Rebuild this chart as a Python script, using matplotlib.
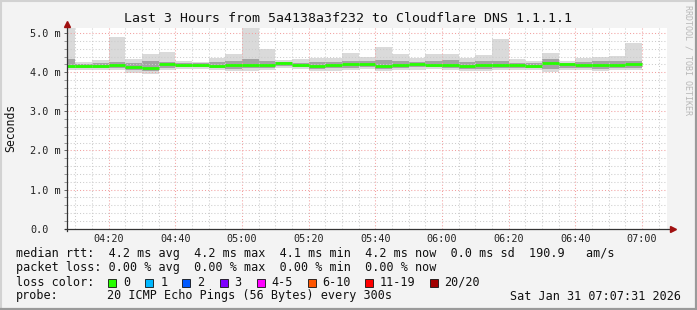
import numpy as np
import matplotlib
matplotlib.use("Agg")
import matplotlib.pyplot as plt
from matplotlib.ticker import MultipleLocator, FuncFormatter
from matplotlib.lines import Line2D
from matplotlib.patches import Rectangle

plt.rcParams['font.family'] = ['DejaVu Sans Mono']

## data: one smoke column per 5 min step (start minute of day)
col_start = np.arange(245, 420, 5)          # 04:05 ... 06:55
median_ms = [4.17, 4.17, 4.16, 4.19, 4.13, 4.10, 4.20, 4.18, 4.18, 4.15,
             4.19, 4.19, 4.19, 4.24, 4.19, 4.17, 4.19, 4.20, 4.22, 4.16,
             4.19, 4.21, 4.19, 4.19, 4.17, 4.18, 4.19, 4.19, 4.16, 4.24,
             4.20, 4.19, 4.19, 4.19, 4.20]
max_ms = [5.14, 4.26, 4.31, 4.89, 4.33, 4.46, 4.53, 4.29, 4.27, 4.36,
          4.46, 5.14, 4.60, 4.31, 4.33, 4.37, 4.37, 4.49, 4.40, 4.64,
          4.46, 4.36, 4.46, 4.46, 4.37, 4.43, 4.85, 4.33, 4.29, 4.49,
          4.29, 4.37, 4.40, 4.42, 4.74]
min_ms = [4.06, 4.05, 4.05, 4.06, 3.97, 3.96, 4.05, 4.08, 4.08, 4.07,
          4.02, 4.02, 4.06, 4.10, 4.08, 4.02, 4.04, 4.05, 4.08, 4.02,
          4.06, 4.07, 4.08, 4.05, 4.04, 4.02, 4.06, 4.05, 4.06, 4.01,
          4.06, 4.05, 4.02, 4.05, 4.05]
q_hi = [4.33, 4.22, 4.24, 4.27, 4.24, 4.28, 4.27, 4.23, 4.23, 4.26,
        4.30, 4.35, 4.30, 4.27, 4.24, 4.26, 4.27, 4.30, 4.28, 4.32,
        4.28, 4.27, 4.30, 4.31, 4.26, 4.29, 4.30, 4.25, 4.23, 4.33,
        4.25, 4.27, 4.30, 4.30, 4.30]
q_lo = [4.10, 4.11, 4.10, 4.12, 4.06, 4.04, 4.12, 4.13, 4.13, 4.11,
        4.09, 4.10, 4.12, 4.16, 4.13, 4.09, 4.11, 4.12, 4.14, 4.08,
        4.12, 4.13, 4.13, 4.10, 4.09, 4.08, 4.12, 4.11, 4.10, 4.08,
        4.12, 4.11, 4.09, 4.11, 4.10]

loss_labels = ["0", "1", "2", "3", "4-5", "6-10", "11-19", "20/20"]
loss_colors = ["#26ff00", "#00b8ff", "#0059ff", "#7e00ff", "#ff00ff",
               "#ff5500", "#ff0000", "#a10000"]

W, H = 697, 310
bg = "#f3f3f3"
fig = plt.figure(figsize=(W / 100, H / 100), dpi=100, facecolor=bg)

def px(x, y):
    return x / W, 1 - y / H

# plot area: x 67..667, y 27.7..228.7
ax = fig.add_axes([67 / W, (H - 228.7) / H, 600 / W, 201 / H])
ax.set_facecolor("white")
ax.set_xlim(247.517, 427.517)
ax.set_ylim(0, 5.14)

step = 5
mn = np.array(min_ms)
ax.bar(col_start, np.array(max_ms) - mn, bottom=mn, width=step, align='edge',
       color="#dadada", linewidth=0, zorder=1)
ax.bar(col_start, np.array(q_hi) - np.array(q_lo), bottom=q_lo, width=step,
       align='edge', color="#a4a4a4", linewidth=0, zorder=1.2)
ax.hlines(median_ms, col_start, col_start + step, colors=loss_colors[0],
          linewidth=2.0, zorder=3)

# grid
ax.xaxis.set_major_locator(MultipleLocator(20))
ax.xaxis.set_minor_locator(MultipleLocator(5))
ax.yaxis.set_major_locator(MultipleLocator(1.0))
ax.yaxis.set_minor_locator(MultipleLocator(0.2))
ax.set_axisbelow(False)
ax.grid(which='minor', color="#cccccc", linestyle=(0, (1, 2)), linewidth=0.75)
ax.grid(which='major', color="#f2a0a0", linestyle=(0, (1, 2)), linewidth=0.75)

ax.xaxis.set_major_formatter(FuncFormatter(lambda v, p: "%02d:%02d" % (v // 60, v % 60)))
ax.yaxis.set_major_formatter(FuncFormatter(lambda v, p: "0.0" if v == 0 else "%.1f m" % v))
ax.tick_params(axis='x', which='both', length=0, pad=3.6, labelsize=7.3, colors="#222222")
ax.tick_params(axis='y', which='major', length=2.2, width=0.7, color="#666666",
               pad=24.4, labelsize=7.3, labelcolor="#222222")
ax.tick_params(axis='y', which='minor', length=2.2, width=0.7, color="#999999")
for lab in ax.get_yticklabels():
    lab.set_horizontalalignment('left')

for s in ax.spines.values():
    s.set_visible(False)

# axes with arrows
axis_col = "#333333"
ax.plot([-0.004, 1.01], [0, 0], transform=ax.transAxes, color=axis_col,
        lw=0.9, clip_on=False, zorder=4)
ax.plot([0, 0], [-0.012, 1.02], transform=ax.transAxes, color=axis_col,
        lw=0.9, clip_on=False, zorder=4)
ax.plot([1.01], [0], transform=ax.transAxes, marker='>', ms=4.5, color="#a01010",
        clip_on=False, zorder=5)
ax.plot([0], [1.02], transform=ax.transAxes, marker='^', ms=4.5, color="#a01010",
        clip_on=False, zorder=5)

# texts
fig.text(*px(348, 18), "Last 3 Hours from 5a4138a3f232 to Cloudflare DNS 1.1.1.1",
         ha='center', va='center', fontsize=9.5, color="#111111")
fig.text(*px(11, 128), "Seconds", rotation=90, ha='center', va='center',
         fontsize=8.3, color="#111111")
fig.text(*px(688, 5), "RRDTOOL / TOBI OETIKER", rotation=-90, ha='center', va='top',
         fontsize=6, color="#b8b8b8")

fs = 8.5
fig.text(*px(16, 254), "median rtt:  4.2 ms avg  4.2 ms max  4.1 ms min  4.2 ms now  0.0 ms sd  190.9   am/s",
         ha='left', va='center', fontsize=fs, color="#111111")
fig.text(*px(16, 268), "packet loss: 0.00 % avg  0.00 % max  0.00 % min  0.00 % now",
         ha='left', va='center', fontsize=fs, color="#111111")
fig.text(*px(16, 282), "loss color:", ha='left', va='center', fontsize=fs, color="#111111")
box_x = [108, 145, 182, 219.5, 257, 307.5, 365, 430]
lab_x = [123, 160.5, 197, 234, 271, 322, 380, 444]
for bx, lx, lab, c in zip(box_x, lab_x, loss_labels, loss_colors):
    fig.add_artist(Rectangle(((bx) / W, 1 - 286.5 / H), 8 / W, 8 / H,
                             facecolor=c, edgecolor="#111111", linewidth=0.6))
    fig.text(*px(lx, 282), lab, ha='left', va='center', fontsize=fs, color="#111111")
fig.text(*px(16, 296), "probe:", ha='left', va='center', fontsize=fs, color="#111111")
fig.text(*px(107, 296), "20 ICMP Echo Pings (56 Bytes) every 300s", ha='left',
         va='center', fontsize=fs, color="#111111")
fig.text(*px(681, 296), "Sat Jan 31 07:07:31 2026", ha='right', va='center',
         fontsize=fs, color="#111111")

# image frame
fig.add_artist(Line2D([0, 1], [1 - 1 / H, 1 - 1 / H], color="#d2d2d2", lw=1.5))
fig.add_artist(Line2D([1 / W, 1 / W], [0, 1], color="#d2d2d2", lw=1.5))
fig.add_artist(Line2D([0, 1], [1.2 / H, 1.2 / H], color="#9a9a9a", lw=1.6))
fig.add_artist(Line2D([1 - 1.2 / W, 1 - 1.2 / W], [0, 1], color="#9a9a9a", lw=1.6))

fig.savefig("out.png", dpi=100, facecolor=bg)
